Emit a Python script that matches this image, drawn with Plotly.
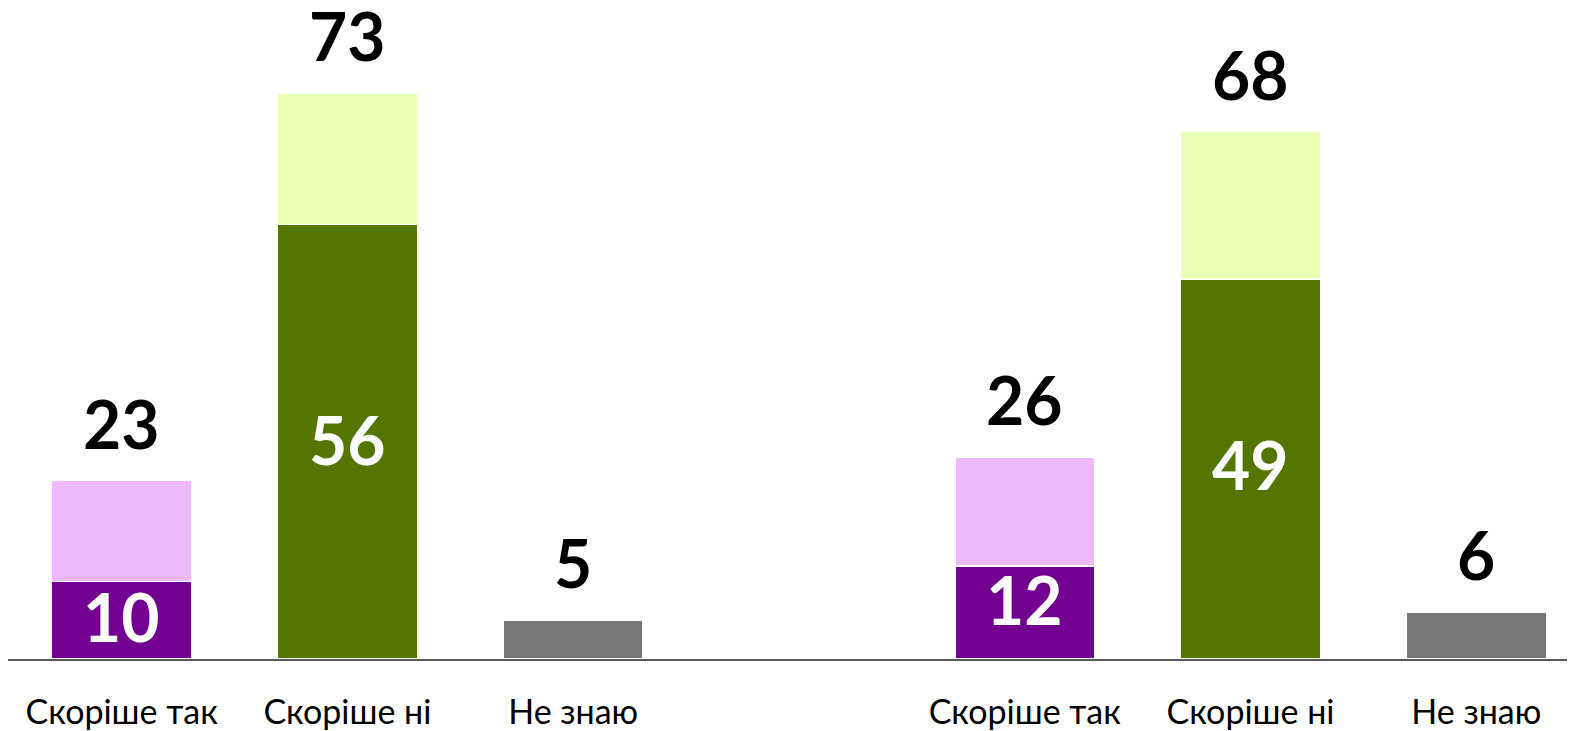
import plotly.graph_objects as go

categories = ["Скоріше так", "Скоріше ні", "Не знаю", "Скоріше так", "Скоріше ні", "Не знаю"]
positions = [0, 1, 2, 4, 5, 6]
strong = [10, 56, 5, 12, 49, 6]      # dark part
partial = [13, 17, 0, 14, 19, 0]     # light part
totals = [23, 73, 5, 26, 68, 6]

dark_colors = ["#720090", "#547500", "#787878", "#720090", "#547500", "#787878"]
light_colors = ["#EEB9FF", "#EAFFB3", "#787878", "#EEB9FF", "#EAFFB3", "#787878"]
inside_label_shift = [4, 2, 0, 13, 4, 0]   # pixel nudges of the inner labels

FONT = "Lato, sans-serif"

fig = go.Figure()
fig.add_trace(go.Bar(x=positions, y=strong, width=0.62,
                     marker=dict(color=dark_colors, line=dict(color="white", width=1.5)),
                     hoverinfo="skip"))
fig.add_trace(go.Bar(x=positions, y=partial, width=0.62,
                     marker=dict(color=light_colors, line=dict(color="white", width=1.5)),
                     hoverinfo="skip"))

annotations = []
for p, t in zip(positions, totals):
    annotations.append(dict(x=p, y=t, text=f"<b>{t}</b>", showarrow=False, yanchor="middle",
                            height=62, valign="middle",
                            yshift=58, font=dict(family=FONT, size=66, color="black")))
for p, s, pt, sh in zip(positions, strong, partial, inside_label_shift):
    if pt > 0:
        annotations.append(dict(x=p, y=s / 2, text=f"<b>{s}</b>", showarrow=False, yanchor="middle",
                                yshift=sh, font=dict(family=FONT, size=66, color="white")))

fig.update_layout(
    barmode="stack",
    width=1567, height=723,
    margin=dict(l=0, r=0, t=0, b=72),
    paper_bgcolor="white", plot_bgcolor="white",
    showlegend=False,
    annotations=annotations,
    xaxis=dict(range=[-0.5035, 6.437], tickvals=positions, ticktext=categories,
               showgrid=False, zeroline=False, showline=True, linecolor="#595959", linewidth=2,
               ticks="", ticklabelstandoff=22, automargin=False,
               tickfont=dict(family=FONT, size=34, color="black")),
    yaxis=dict(range=[0, 83.94], visible=False, showgrid=False, zeroline=False),
)

fig.write_html("out.html")
